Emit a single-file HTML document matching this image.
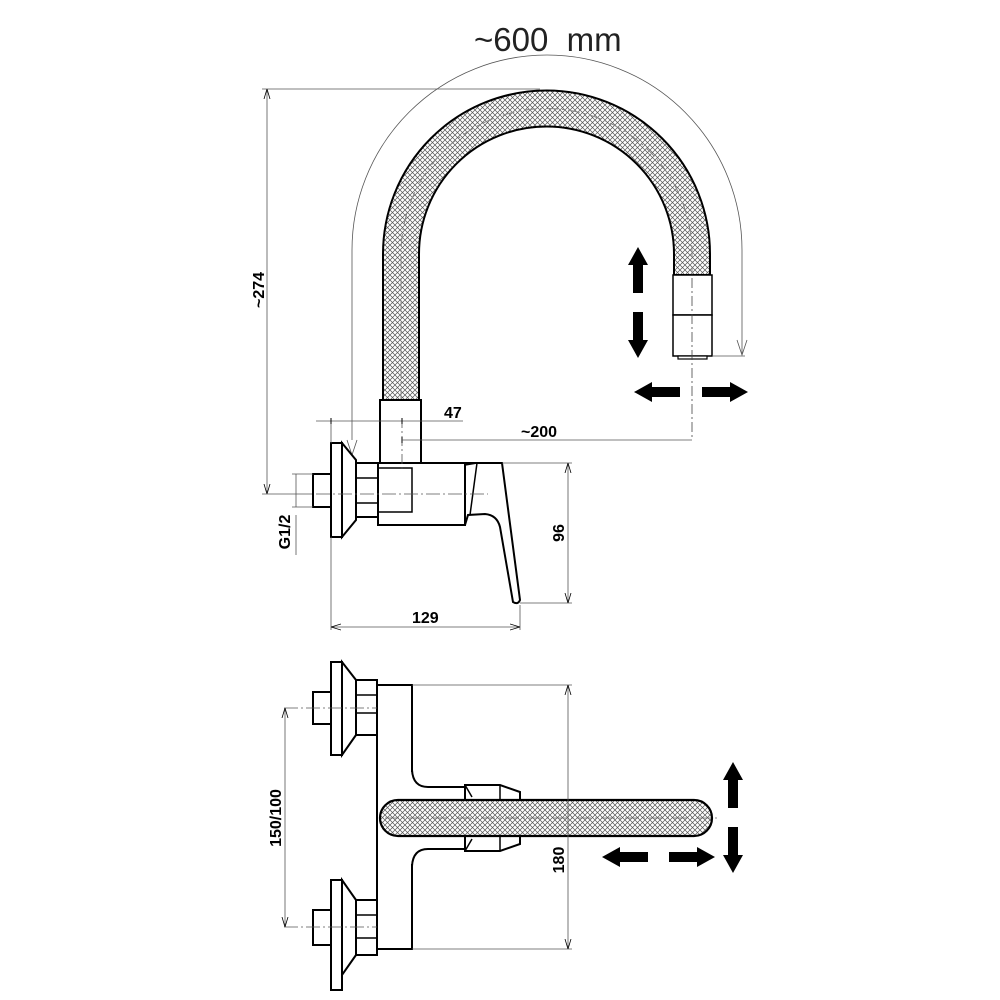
<!DOCTYPE html>
<html><head><meta charset="utf-8"><style>
html,body{margin:0;padding:0;background:#fff}
svg{display:block}
.t{font-family:"Liberation Sans",sans-serif;font-weight:bold;font-size:16px;fill:#000}
</style></head><body>
<svg width="1000" height="1000" viewBox="0 0 1000 1000" xmlns="http://www.w3.org/2000/svg">
<defs>
<pattern id="h" width="5" height="5" patternUnits="userSpaceOnUse">
<rect width="5" height="5" fill="#fff"/>
<path d="M0,0L5,5M5,0L0,5" stroke="#555" stroke-width="0.7"/>
</pattern>
<marker id="a" viewBox="0 0 10 10" refX="10" refY="5" markerWidth="10" markerHeight="10" orient="auto-start-reverse" markerUnits="userSpaceOnUse"><path d="M0,2L10,5L0,8" fill="none" stroke="#000" stroke-width="0.8"/></marker>
<g id="arr"><path d="M0,-5L28,-5L28,-10L46,0L28,10L28,5L0,5Z" fill="#000"/></g>
</defs>

<!-- ~600 mm -->
<text x="474" y="51" font-family="Liberation Sans,sans-serif" font-size="33" fill="#222" font-weight="normal">~600&#160; mm</text>
<path d="M352,440 L352,250 A195,195 0 0 1 742,250 L742,355" fill="none" stroke="#555" stroke-width="0.8"/>
<path d="M347,440 L352,455 L357,440 M737,340 L742,355 L747,340" fill="none" stroke="#555" stroke-width="0.8"/>

<!-- spout tube -->
<path d="M383,400 L383,254 A163.5,163.5 0 0 1 710,254 L710,275 L674,275 L674,254 A127.5,127.5 0 0 0 419,254 L419,400 Z" fill="url(#h)" stroke="#000" stroke-width="2"/>
<path d="M401,400 L401,254 A145.5,145.5 0 0 1 692,254 L692,275" fill="none" stroke="#888" stroke-width="1" stroke-dasharray="12,4,2,4"/>
<!-- nozzle -->
<rect x="673" y="275" width="39" height="40" fill="#fff" stroke="#000" stroke-width="1.5"/>
<path d="M673,315 L712,315 L712,356 L673,356 Z" fill="#fff" stroke="#000" stroke-width="1.5"/>
<rect x="678" y="356" width="29" height="3" fill="#fff" stroke="#000" stroke-width="1.2"/>
<line x1="692" y1="278" x2="692" y2="440" stroke="#444" stroke-width="0.8" stroke-dasharray="10,3,2,3"/>
<line x1="712" y1="356" x2="745" y2="356" stroke="#555" stroke-width="0.8"/>

<!-- arrows top -->
<use href="#arr" transform="translate(638,293) rotate(-90)"/>
<use href="#arr" transform="translate(638,312) rotate(90)"/>
<use href="#arr" transform="translate(680,392) rotate(180)"/>
<use href="#arr" transform="translate(702,392)"/>

<!-- 274 dim -->
<line x1="262" y1="89" x2="540" y2="89" stroke="#555" stroke-width="0.8"/>
<line x1="267" y1="89" x2="267" y2="494" stroke="#555" stroke-width="0.8" marker-start="url(#a)" marker-end="url(#a)"/>
<line x1="262" y1="494" x2="315" y2="494" stroke="#555" stroke-width="0.8"/>
<text class="t" transform="translate(267,290) rotate(-90)" text-anchor="middle" y="-3">~274</text>

<!-- side view body -->
<rect x="380" y="400" width="41" height="63" fill="#fff" stroke="#000" stroke-width="2"/>
<rect x="378" y="463" width="87" height="62" fill="#fff" stroke="#000" stroke-width="2"/>
<rect x="378" y="468" width="34" height="44" fill="none" stroke="#000" stroke-width="1.5"/>
<rect x="356" y="463" width="22" height="54" fill="#fff" stroke="#000" stroke-width="2"/>
<line x1="356" y1="478" x2="378" y2="478" stroke="#000" stroke-width="1.5"/>
<line x1="356" y1="503" x2="378" y2="503" stroke="#000" stroke-width="1.5"/>
<path d="M342,443 L356,460 L356,520 L342,537 Z" fill="#fff" stroke="#000" stroke-width="2"/>
<rect x="331" y="443" width="11" height="94" fill="#fff" stroke="#000" stroke-width="2"/>
<rect x="313" y="474" width="18" height="33" fill="#fff" stroke="#000" stroke-width="2"/>
<path d="M465,463 L477,463 L502,463 L520,600 Q518,605 513,602 L500,527 Q497,515 485,514 L468,515 L465,525 Z" fill="#fff" stroke="#000" stroke-width="2"/>
<path d="M465,465 L477,463 L470,515" fill="none" stroke="#000" stroke-width="1.5"/>
<line x1="316" y1="494" x2="488" y2="494" stroke="#555" stroke-width="0.8" stroke-dasharray="14,3,2,3"/>

<!-- G1/2 -->
<line x1="292" y1="474" x2="313" y2="474" stroke="#555" stroke-width="0.8"/>
<line x1="292" y1="507" x2="313" y2="507" stroke="#555" stroke-width="0.8"/>
<line x1="296" y1="474" x2="296" y2="507" stroke="#555" stroke-width="0.8"/>
<line x1="296" y1="515" x2="296" y2="555" stroke="#555" stroke-width="0.8"/>
<text class="t" transform="translate(292,532) rotate(-90)" text-anchor="middle" y="-2">G1/2</text>

<!-- 47 / 200 -->
<line x1="331" y1="418" x2="331" y2="443" stroke="#555" stroke-width="0.8"/>
<line x1="316" y1="421" x2="463" y2="421" stroke="#555" stroke-width="0.8"/>
<line x1="402" y1="418" x2="402" y2="470" stroke="#555" stroke-width="0.8" stroke-dasharray="10,3,2,3"/>
<path d="M331,418 L331,424 M402,418 L402,424 M402,437 L402,443" stroke="#000" stroke-width="1"/>
<text class="t" x="444" y="418">47</text>
<line x1="402" y1="440" x2="692" y2="440" stroke="#555" stroke-width="0.8"/>
<text class="t" x="521" y="437">~200</text>

<!-- 96 -->
<line x1="502" y1="463" x2="572" y2="463" stroke="#555" stroke-width="0.8"/>
<line x1="520" y1="603" x2="572" y2="603" stroke="#555" stroke-width="0.8"/>
<line x1="568" y1="463" x2="568" y2="603" stroke="#555" stroke-width="0.8" marker-start="url(#a)" marker-end="url(#a)"/>
<text class="t" transform="translate(568,533) rotate(-90)" text-anchor="middle" y="-4">96</text>

<!-- 129 -->
<line x1="331" y1="537" x2="331" y2="630" stroke="#555" stroke-width="0.8"/>
<line x1="520" y1="605" x2="520" y2="630" stroke="#555" stroke-width="0.8"/>
<line x1="331" y1="627" x2="520" y2="627" stroke="#555" stroke-width="0.8" marker-start="url(#a)" marker-end="url(#a)"/>
<text class="t" x="412" y="623">129</text>

<!-- bottom view -->
<rect x="377" y="685" width="35" height="264" fill="#fff" stroke="#000" stroke-width="2"/>
<!-- upper connection -->
<rect x="356" y="680" width="21" height="55" fill="#fff" stroke="#000" stroke-width="2"/>
<line x1="356" y1="695" x2="377" y2="695" stroke="#000" stroke-width="1.5"/>
<line x1="356" y1="713" x2="377" y2="713" stroke="#000" stroke-width="1.5"/>
<path d="M342,662 L356,680 L356,735 L342,755 Z" fill="#fff" stroke="#000" stroke-width="2"/>
<rect x="331" y="662" width="11" height="93" fill="#fff" stroke="#000" stroke-width="2"/>
<rect x="313" y="692" width="18" height="32" fill="#fff" stroke="#000" stroke-width="2"/>
<!-- lower connection -->
<rect x="356" y="900" width="21" height="55" fill="#fff" stroke="#000" stroke-width="2"/>
<line x1="356" y1="915" x2="377" y2="915" stroke="#000" stroke-width="1.5"/>
<line x1="356" y1="938" x2="377" y2="938" stroke="#000" stroke-width="1.5"/>
<path d="M342,880 L356,900 L356,955 L342,975 Z" fill="#fff" stroke="#000" stroke-width="2"/>
<rect x="331" y="880" width="11" height="110" fill="#fff" stroke="#000" stroke-width="2"/>
<rect x="313" y="910" width="18" height="35" fill="#fff" stroke="#000" stroke-width="2"/>
<line x1="284" y1="708" x2="377" y2="708" stroke="#555" stroke-width="0.8" stroke-dasharray="14,3,2,3"/>
<line x1="284" y1="927" x2="377" y2="927" stroke="#555" stroke-width="0.8" stroke-dasharray="14,3,2,3"/>
<line x1="285" y1="708" x2="285" y2="927" stroke="#555" stroke-width="0.8" marker-start="url(#a)" marker-end="url(#a)"/>
<text class="t" transform="translate(285,818) rotate(-90)" text-anchor="middle" y="-4">150/100</text>
<!-- neck -->
<rect x="410" y="772" width="6" height="92" fill="#fff"/>
<path d="M412,770 Q413,787 428,787 L465,787 M412,866 Q413,849 428,849 L465,849" fill="none" stroke="#000" stroke-width="2"/>
<path d="M465,785 L500,785 L520,792 L520,844 L500,851 L465,851 Z" fill="#fff" stroke="#000" stroke-width="2"/>
<path d="M465,785 L472,797 M465,851 L472,839 M500,785 L500,851" fill="none" stroke="#000" stroke-width="1.5"/>
<!-- spout -->
<rect x="380" y="800" width="332" height="36" rx="18" fill="url(#h)" stroke="#000" stroke-width="2.2"/>
<line x1="385" y1="818" x2="718" y2="818" stroke="#666" stroke-width="0.8" stroke-dasharray="14,4,2,4"/>
<!-- 180 -->
<line x1="412" y1="685" x2="572" y2="685" stroke="#555" stroke-width="0.8"/>
<line x1="412" y1="949" x2="572" y2="949" stroke="#555" stroke-width="0.8"/>
<line x1="568" y1="685" x2="568" y2="949" stroke="#555" stroke-width="0.8" marker-start="url(#a)" marker-end="url(#a)"/>
<text class="t" transform="translate(568,860) rotate(-90)" text-anchor="middle" y="-4">180</text>
<!-- arrows bottom -->
<use href="#arr" transform="translate(733,808) rotate(-90)"/>
<use href="#arr" transform="translate(733,827) rotate(90)"/>
<use href="#arr" transform="translate(648,857) rotate(180)"/>
<use href="#arr" transform="translate(669,857)"/>
</svg>
</body></html>
